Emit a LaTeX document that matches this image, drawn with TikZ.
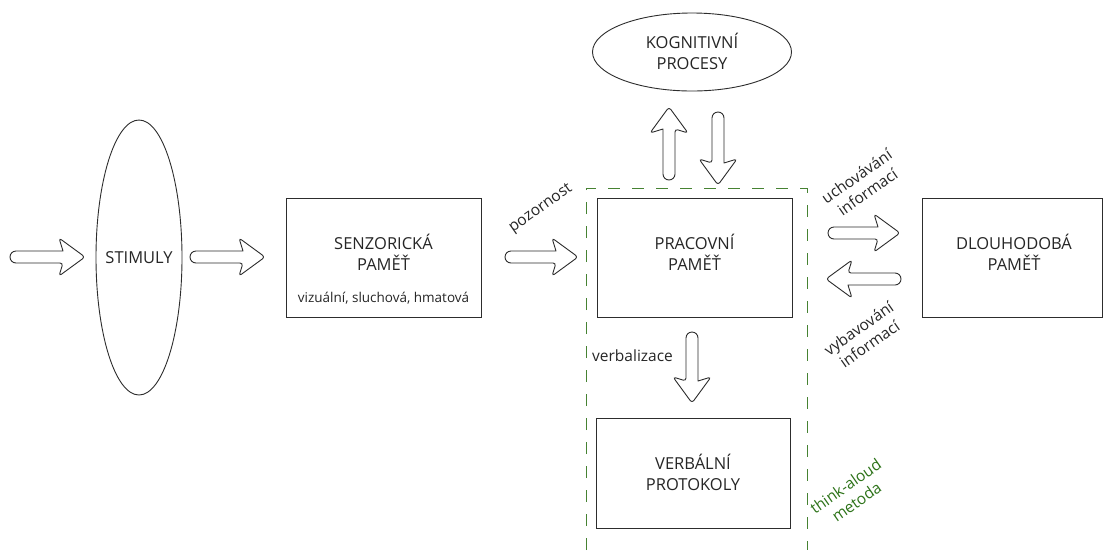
\documentclass[tikz,border=0pt]{standalone}
\usepackage{fontspec}
\setmainfont{Open Sans}
\usetikzlibrary{shapes.geometric}
\definecolor{dgreen}{RGB}{70,130,50}
\definecolor{tgreen}{RGB}{45,115,25}
\definecolor{lc}{RGB}{45,45,45}
\tikzset{
  box/.style={draw=lc, line width=0.9pt, inner sep=0pt},
  txt/.style={align=center, inner sep=0pt, font=\fontsize{16.5}{21}\selectfont, text=black!85},
  smalltxt/.style={align=center, inner sep=0pt, font=\fontsize{13.5}{17}\selectfont, text=black!85},
  lbl/.style={align=center, inner sep=0pt, font=\fontsize{15.5}{19}\selectfont, text=black!85},
  oval/.style={draw=lc, line width=0.9pt, ellipse, inner sep=0pt},
  arr/.style={draw=lc, line width=0.9pt, fill=white, line join=round},
  barrow/.pic={
    \path[arr] (6pt,-6pt) arc[start angle=270, end angle=90, radius=6pt]
      -- (#1pt-22pt,6pt)
      {[rounded corners=3pt] -- (#1pt-26pt,19pt) -- (#1pt,0pt) -- (#1pt-26pt,-19pt) -- (#1pt-22pt,-6pt)}
      -- cycle;
  },
  zone/.style={draw=dgreen, line width=1pt, dash pattern=on 12pt off 12pt}
}
\begin{document}
\begin{tikzpicture}[x=1pt,y=1pt]
\useasboundingbox[fill=white] (0,0) rectangle (1103,-550);

% dashed zone
\coordinate (zbl) at (586,-550);
\coordinate (ztl) at (586,-188);
\coordinate (ztr) at (807,-188);
\coordinate (zbr) at (807,-550);
\draw[zone] (zbl) -- (ztl) -- (ztr) -- (zbr);

% nodes
\node[oval, minimum width=86pt, minimum height=275pt] (stim) at (139,-257.5) {};
\node[txt] (stimt) at (stim.center) {STIMULY};

\node[box, minimum width=195pt, minimum height=119pt] (senz) at (383.5,-257.5) {};
\node[txt] (senzt) at (383.5,-252) {SENZORICKÁ\\PAMĚŤ};
\node[smalltxt] (senzs) at (383.5,-298) {vizuální, sluchová, hmatová};

\node[box, minimum width=195pt, minimum height=119pt] (prac) at (694.5,-257.5) {};
\node[txt] (pract) at (694.5,-252) {PRACOVNÍ\\PAMĚŤ};

\node[box, minimum width=180pt, minimum height=119pt] (dlouh) at (1012.5,-257.5) {};
\node[txt] (dlouht) at (1014,-252) {DLOUHODOBÁ\\PAMĚŤ};

\node[box, minimum width=194pt, minimum height=110pt] (verb) at (693,-473) {};
\node[txt] (verbt) at (693,-472) {VERBÁLNÍ\\PROTOKOLY};

\node[oval, minimum width=199pt, minimum height=78pt] (kogn) at (692,-52) {};
\node[txt] (kognt) at (692,-51) {KOGNITIVNÍ\\PROCESY};

% block arrows
\coordinate (a1) at (10,-257);
\coordinate (a2) at (190,-257);
\coordinate (a3) at (505,-257);
\coordinate (a4) at (669,-180);
\coordinate (a5) at (718,-112);
\coordinate (a6) at (692,-332);
\coordinate (a7) at (828,-233);
\coordinate (a8) at (901,-279);
\pic at (a1) {barrow=75};
\pic at (a2) {barrow=75};
\pic at (a3) {barrow=73};
\pic[rotate=90] at (a4) {barrow=73};
\pic[rotate=-90] at (a5) {barrow=73};
\pic[rotate=-90] at (a6) {barrow=71};
\pic at (a7) {barrow=72};
\pic[rotate=180] at (a8) {barrow=75};

% labels
\node[lbl, rotate=35] (lpoz) at (541,-209) {pozornost};
\node[lbl, rotate=35] (luch) at (862,-184) {uchovávání\\informací};
\node[lbl, rotate=35] (lvyb) at (864,-336) {vybavování\\informací};
\node[lbl, anchor=west] (lverb) at (592,-356) {verbalizace};
\node[lbl, rotate=35, text=tgreen] (lthink) at (851,-494) {think-aloud\\metoda};
\end{tikzpicture}
\end{document}
